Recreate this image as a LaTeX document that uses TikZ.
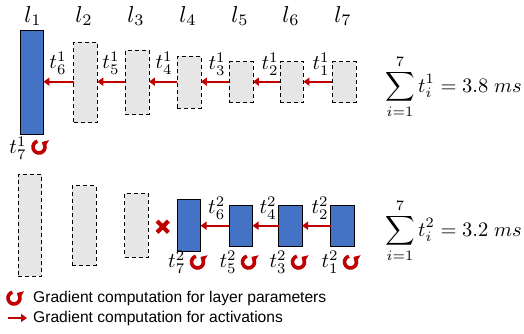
\documentclass[tikz,border=0pt]{standalone}
\usepackage{amsmath}
\usepackage{fontspec}
\setsansfont{Liberation Sans}
\usetikzlibrary{arrows.meta}
\definecolor{myblue}{HTML}{4472C4}
\definecolor{mygray}{HTML}{E7E6E6}
\definecolor{myred}{HTML}{C00000}
\newcommand{\lyrtxt}[1]{\scalebox{2.3}{$#1$}}
\newcommand{\ttxt}[1]{\scalebox{2.1}{$#1$}}
\newcommand{\sumtxt}[1]{\scalebox{2.05}{$\displaystyle #1$}}
\begin{document}
\begin{tikzpicture}[x=1pt,y=-1pt,
  bluebox/.style={draw=black, fill=myblue, line width=0.8pt, minimum width=23.5pt, inner sep=0pt, outer sep=0pt},
  graybox/.style={draw=black, fill=mygray, dash pattern=on 4pt off 3pt, line width=0.8pt, minimum width=23.5pt, inner sep=0pt, outer sep=0pt},
  actarrow/.style={draw=myred, line width=2pt, -{Triangle[length=6pt,width=8pt]}},
  lyr/.style={inner sep=0pt},
  tlbl/.style={inner sep=0pt},
  sumlbl/.style={inner sep=0pt, anchor=west},
  legtxt/.style={inner sep=0pt, anchor=west, font=\sffamily\fontsize{15.6}{18}\selectfont},
  gradicon/.pic={\begin{scope}[yscale=-1]
     \draw[myred, line width=3.6pt, -{Triangle[length=5pt,width=10pt]}] (105:6) arc[start angle=105, end angle=418, radius=6];
   \end{scope}}
]
\useasboundingbox (0,0) rectangle (524,334);

% layer labels
\node[lyr] (l1) at (33,16) {\lyrtxt{l_1}};
\node[lyr] (l2) at (84,16) {\lyrtxt{l_2}};
\node[lyr] (l3) at (136,16) {\lyrtxt{l_3}};
\node[lyr] (l4) at (188,16) {\lyrtxt{l_4}};
\node[lyr] (l5) at (240,16) {\lyrtxt{l_5}};
\node[lyr] (l6) at (291,16) {\lyrtxt{l_6}};
\node[lyr] (l7) at (343,16) {\lyrtxt{l_7}};

% top row
\node[bluebox, minimum height=103.3pt] (a1) at (31.7,82.5) {};
\node[graybox, minimum height=80.4pt] (a2) at (85.5,82.5) {};
\node[graybox, minimum height=64.3pt] (a3) at (137.2,82.5) {};
\node[graybox, minimum height=52.3pt] (a4) at (189.2,82.2) {};
\node[graybox, minimum height=40.7pt] (a5) at (241.2,82.2) {};
\node[graybox, minimum height=40.7pt] (a6) at (291.7,82.2) {};
\node[graybox, minimum height=40.7pt] (a7) at (344.2,82.2) {};

\draw[actarrow] (a2.west |- 0,81.7) -- (a1.east |- 0,81.7);
\draw[actarrow] (a3.west |- 0,81.7) -- (a2.east |- 0,81.7);
\draw[actarrow] (a4.west |- 0,81.7) -- (a3.east |- 0,81.7);
\draw[actarrow] (a5.west |- 0,81.7) -- (a4.east |- 0,81.7);
\draw[actarrow] (a6.west |- 0,81.7) -- (a5.east |- 0,81.7);
\draw[actarrow] (a7.west |- 0,81.7) -- (a6.east |- 0,81.7);

\node[tlbl] (t61) at (58,63) {\ttxt{t_6^1}};
\node[tlbl] (t51) at (111,63) {\ttxt{t_5^1}};
\node[tlbl] (t41) at (164,63) {\ttxt{t_4^1}};
\node[tlbl] (t31) at (217,64) {\ttxt{t_3^1}};
\node[tlbl] (t21) at (270,64) {\ttxt{t_2^1}};
\node[tlbl] (t11) at (321,64) {\ttxt{t_1^1}};

\node[tlbl] (t71) at (18,148) {\ttxt{t_7^1}};
\pic at (39,147) {gradicon};

\node[sumlbl] (s1) at (385,87) {\sumtxt{\sum_{i=1}^{7} t_i^1 = 3.8\;ms}};

% bottom row
\node[graybox, minimum height=101.7pt] (b1) at (30,225.2) {};
\node[graybox, minimum height=80pt] (b2) at (84.2,225.7) {};
\node[graybox, minimum height=64pt] (b3) at (136.3,225.3) {};
\node[bluebox, minimum height=52pt] (b4) at (188.8,225) {};
\node[bluebox, minimum height=40.7pt] (b5) at (240.8,225.7) {};
\node[bluebox, minimum height=40.7pt] (b6) at (290.3,225.7) {};
\node[bluebox, minimum height=40.7pt] (b7) at (342.5,225.7) {};

\node[inner sep=0pt, minimum size=11pt] (x) at (162.7,226.7) {};
\draw[myred, line width=4.2pt] (x.north west) -- (x.south east) (x.north east) -- (x.south west);

\draw[actarrow] (b5.west |- 0,225.7) -- (b4.east |- 0,225.7);
\draw[actarrow] (b6.west |- 0,225.7) -- (b5.east |- 0,225.7);
\draw[actarrow] (b7.west |- 0,225.7) -- (b6.east |- 0,225.7);

\node[tlbl] (t62) at (216.7,208) {\ttxt{t_6^2}};
\node[tlbl] (t42) at (268,208) {\ttxt{t_4^2}};
\node[tlbl] (t22) at (320,208) {\ttxt{t_2^2}};

\node[tlbl] (t72) at (176.7,262) {\ttxt{t_7^2}};
\pic at (197.5,262) {gradicon};
\node[tlbl] (t52) at (228,262) {\ttxt{t_5^2}};
\pic at (248.5,262) {gradicon};
\node[tlbl] (t32) at (278,262) {\ttxt{t_3^2}};
\pic at (298.5,262) {gradicon};
\node[tlbl] (t12) at (330,262) {\ttxt{t_1^2}};
\pic at (350.5,262) {gradicon};

\node[sumlbl] (s2) at (385,231) {\sumtxt{\sum_{i=1}^{7} t_i^2 = 3.2\;ms}};

% legend
\pic at (14,298) {gradicon};
\node[legtxt] (g1) at (33,298) {Gradient computation for layer parameters};
\coordinate (la1) at (8,318);
\coordinate (la2) at (27,318);
\draw[actarrow] (la1) -- (la2);
\node[legtxt] (g2) at (33,318) {Gradient computation for activations};
\end{tikzpicture}
\end{document}
